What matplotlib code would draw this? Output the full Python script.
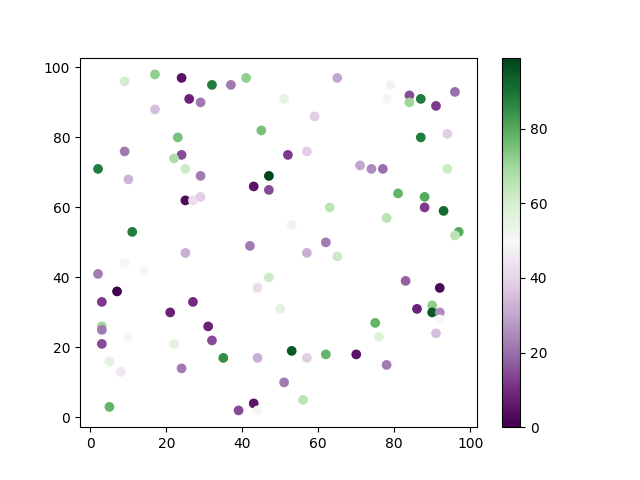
import matplotlib
matplotlib.use("Agg")
import matplotlib.pyplot as plt

# point coordinates and colour values
x = [9, 17, 24, 32, 37, 41, 51, 26, 29, 17, 45, 23, 9, 24, 22, 52, 2, 25, 10, 29,
     47, 43, 47, 25, 27, 29, 11,
     65, 79, 78, 84, 84, 87, 91, 96, 59, 87, 94, 57, 71, 74, 77, 94, 81, 88, 88,
     93, 63, 78, 53, 62, 97, 96,
     42, 25, 9, 14, 2, 47, 44, 50, 7, 3, 27, 21, 3, 3, 10, 31, 32, 3, 22, 35,
     44, 5, 8, 24, 51, 5, 39, 43, 44,
     57, 65, 83, 92, 86, 90, 90, 92, 92, 91, 75, 76, 53, 57, 62, 70, 78, 56]
y = [96, 98, 97, 95, 95, 97, 91, 91, 90, 88, 82, 80, 76, 75, 74, 75, 71, 71, 68, 69,
     69, 66, 65, 62, 62, 63, 53,
     97, 95, 91, 92, 90, 91, 89, 93, 86, 80, 81, 76, 72, 71, 71, 71, 64, 63, 60,
     59, 60, 57, 55, 50, 53, 52,
     49, 47, 44, 42, 41, 40, 37, 31, 36, 33, 33, 30, 26, 25, 23, 26, 22, 21, 21, 17,
     17, 16, 13, 14, 10, 3, 2, 4, 2,
     47, 46, 39, 37, 31, 32, 30, 30, 28, 24, 27, 23, 19, 17, 18, 18, 15, 5]
c = [60, 72, 5, 88, 22, 72, 55, 8, 22, 35, 75, 75, 22, 15, 68, 12, 88, 62, 33, 22,
     99, 5, 15, 3, 42, 38, 88,
     30, 52, 50, 15, 70, 88, 12, 20, 38, 88, 38, 38, 30, 25, 20, 62, 78, 80, 12,
     92, 65, 65, 48, 22, 80, 65,
     22, 32, 50, 50, 22, 62, 42, 56, 0, 12, 10, 8, 70, 22, 50, 8, 15, 15, 56, 85,
     32, 56, 45, 22, 22, 78, 15, 5, 50,
     32, 62, 18, 2, 8, 72, 95, 25, 50, 35, 78, 58, 95, 38, 78, 5, 22, 65]

fig, ax = plt.subplots(figsize=(6.4, 4.8), dpi=100)
sc = ax.scatter(x, y, c=c, cmap="PRGn")
fig.colorbar(sc, ax=ax)

fig.savefig("out.png")
